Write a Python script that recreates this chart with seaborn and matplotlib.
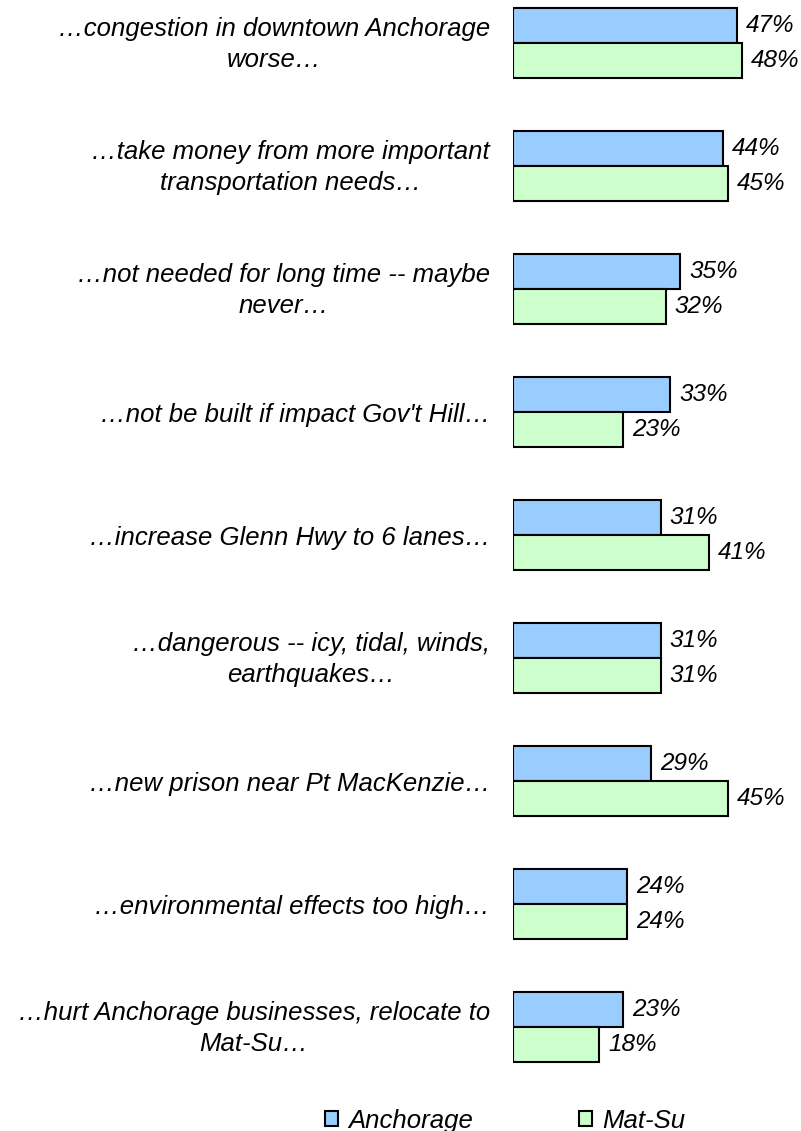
import pandas as pd
import matplotlib
matplotlib.use("Agg")
import matplotlib.pyplot as plt
import matplotlib.transforms as mtransforms
import seaborn as sns

# survey items (top to bottom) and percentages per area
items = [
    "…congestion in downtown Anchorage\nworse…",
    "…take money from more important\ntransportation needs…",
    "…not needed for long time -- maybe\nnever…",
    "…not be built if impact Gov't Hill…",
    "…increase Glenn Hwy to 6 lanes…",
    "…dangerous -- icy, tidal, winds,\nearthquakes…",
    "…new prison near Pt MacKenzie…",
    "…environmental effects too high…",
    "…hurt Anchorage businesses, relocate to\nMat-Su…",
]
anchorage = [47, 44, 35, 33, 31, 31, 29, 24, 23]
matsu = [48, 45, 32, 23, 41, 31, 45, 24, 18]
groups = ["Anchorage", "Mat-Su"]
colors = ["#99CCFF", "#CCFFCC"]

df = pd.DataFrame({
    "item": items * 2,
    "pct": anchorage + matsu,
    "group": [groups[0]] * len(items) + [groups[1]] * len(items),
})

sns.set_style("white")
plt.rcParams["font.family"] = ["Liberation Sans", "DejaVu Sans"]
plt.rcParams["font.style"] = "italic"
plt.rcParams["text.color"] = "black"
plt.rcParams["ytick.color"] = "black"
plt.rcParams["ytick.labelcolor"] = "black"

W, H = 801, 1131
fig = plt.figure(figsize=(W / 100, H / 100), dpi=100)
x0, top, bot = 513, 0, 1080
px_per = 4.77
xmax = 58
ax = fig.add_axes([x0 / W, (H - bot) / H, xmax * px_per / W, (bot - top) / H])

sns.barplot(data=df, x="pct", y="item", hue="group", palette=colors,
            orient="h", width=0.57, edgecolor="black", linewidth=1.5,
            saturation=1, ax=ax)

for c in ax.containers:
    ax.bar_label(c, fmt="%d%%", padding=6.5, fontsize=17.5, style="italic",
                 color="black")

ax.set_xlim(0, xmax)
ax.set_ylim(8.43, -0.35)
ax.set_xlabel("")
ax.set_ylabel("")
ax.set_xticks([])
for s in ax.spines.values():
    s.set_visible(False)
ax.tick_params(axis="y", length=0, pad=16.5)

# two-line labels sit a little higher in the original
lift = mtransforms.ScaledTranslation(0, 5 / 100, fig.dpi_scale_trans)
for t in ax.get_yticklabels():
    t.set_fontsize(18.5)
    t.set_style("italic")
    t.set_color("black")
    t.set_multialignment("center")
    t.set_linespacing(1.4)
    if "\n" in t.get_text():
        t.set_transform(t.get_transform() + lift)

handles, labels = ax.get_legend_handles_labels()
ax.get_legend().remove()
fig.legend(handles, labels, loc="center", bbox_to_anchor=(505 / W, (H - 1121) / H),
           ncol=2, frameon=False, handlelength=0.52, handleheight=0.52,
           handletextpad=0.4, columnspacing=4.1,
           prop={"style": "italic", "size": 18.5})

fig.savefig("out.png", dpi=100)
